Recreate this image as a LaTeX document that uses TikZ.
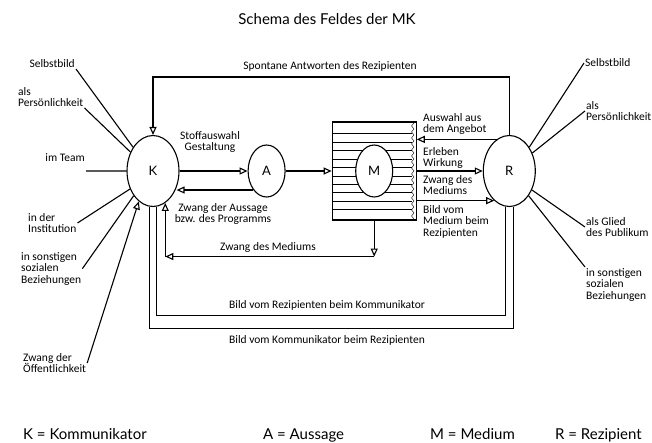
\documentclass[tikz,border=0pt]{standalone}
\usepackage{fontspec}
\setmainfont{Lato}
\newfontfamily\schmal{Carlito}
\usepackage{tikz}
\usetikzlibrary{positioning, arrows.meta, calc, shapes.geometric, decorations.pathmorphing}

\begin{document}
\begin{tikzpicture}[x=1pt, y=-1pt, >={Triangle[open, length=8pt, width=7pt]},
    linie/.style={line width=1.1pt},
    pfeil/.style={linie, ->},
    pol/.style={draw, linie, ellipse, fill=white, inner sep=0pt, minimum width=52pt, minimum height=71pt, font=\fontsize{13}{13}\selectfont},
    klein/.style={pol, minimum width=37pt, minimum height=52pt},
    txt/.style={font=\schmal\fontsize{11.5}{11.5}\selectfont, inner sep=1pt, align=left},
    legende/.style={font=\fontsize{15}{15}\selectfont, anchor=base west, inner sep=0pt}]
\useasboundingbox (0,0) rectangle (652,442);

\node[font=\fontsize{15}{15}\selectfont] (titel) at (327,19) {Schema des Feldes der MK};

% die vier Pole
\node[pol] (K) at (153,171) {K};
\node[klein, right=68pt of K] (A) {A};
\node[draw, linie, minimum width=84pt, minimum height=98pt, right=46pt of A] (box) {};
\foreach \i in {0,...,9}
  \draw ([yshift={-12pt-\i*8.45pt}]box.north west) -- ++(80,0);
\draw[decorate, decoration={zigzag, amplitude=1.2pt, segment length=6pt}]
  ([xshift=-4pt]box.north east) -- ([xshift=-4pt]box.south east);
\node[klein] (M) at (box) {M};
\node[pol, right=66pt of box] (R) {R};

% Einfluesse auf K
\node[txt, anchor=south east] (kSelbst) at (76,69) {Selbstbild};
\node[txt, anchor=north west] (kPers) at (17,86) {als\\Persönlichkeit};
\node[txt, anchor=north east] (kTeam) at (86,152) {im Team};
\node[txt, anchor=north west] (kInst) at (27,212) {in der\\Institution};
\node[txt, anchor=north west] (kSoz) at (20,251) {in sonstigen\\sozialen\\Beziehungen};
\node[txt, anchor=north west] (kOeff) at (22,352) {Zwang der\\Öffentlichkeit};
\draw[linie]
  (kSelbst.south east) -- (K.130)
  (kPers.south east) -- (K.140)
  (K.180 -| kTeam.south east) -- (K.180)
  (kInst.east) -- (K.218)
  (kSoz.east) -- (K.232);
\draw[pfeil] (kOeff.east) -- (K.245);

% Einfluesse auf R
\node[txt, anchor=west] (rSelbst) at (584,63) {Selbstbild};
\node[txt, anchor=north west] (rPers) at (585,100) {als\\Persönlichkeit};
\node[txt, anchor=north west] (rGlied) at (585,216) {als Glied\\des Publikum};
\node[txt, anchor=north west] (rSoz) at (585,267) {in sonstigen\\sozialen\\Beziehungen};
\draw[linie]
  (R.50) -- (rSelbst.west)
  (R.38) -- (rPers.west)
  (R.-40) -- (rGlied.west)
  (R.-52) -- (rSoz.north west);

% Aussage und Medium
\node[txt, align=center] (stoff) at (210,142) {Stoffauswahl\\Gestaltung};
\node[txt, align=center] (zwangA) at (223,214) {Zwang der Aussage\\bzw. des Programms};
\draw[pfeil] (K.east) -- (A.west);
\draw[pfeil] (A.235) -- (A.235 -| K.-35);
\draw[pfeil] (A.east) -- (box.west);

\node[txt, anchor=north west] (auswahl) at (422,112) {Auswahl aus\\dem Angebot};
\node[txt, anchor=north west] (erleben) at (422,146) {Erleben\\Wirkung};
\node[txt, anchor=north west] (zwangM) at (422,174) {Zwang des\\Mediums};
\node[txt, anchor=north west] (bildM) at (422,204) {Bild vom\\Medium beim\\Rezipienten};
\draw[pfeil] (R.112) -- (R.112 -| box.east);
\draw[pfeil] (box.east) -- (R.west);
\draw[pfeil] (box.east |- R.243) -- (R.243);

\node[txt] (zwangMed) at (268,247) {Zwang des Mediums};
\draw[pfeil] (box.south) -- ++(0,36) coordinate (ecke);
\draw[pfeil] (ecke) -- (ecke -| K.-69);
\draw[pfeil] (ecke -| K.-69) -- (K.-69);

% Rueckkopplungen
\node[txt] (spontan) at (330,66) {Spontane Antworten des Rezipienten};
\draw[pfeil] (R.north) -- ++(0,-58) -| (K.north);
\node[txt] (bildRK) at (327,305) {Bild vom Rezipienten beim Kommunikator};
\node[txt] (bildKR) at (327,340) {Bild vom Kommunikator beim Rezipienten};
\draw[linie] (R.-96) -- ++(0,109) -| (K.-84);
\draw[linie] (K.-96) -- ++(0,122) -| (R.-84);

% Legende
\node[legende] (legK) at (23,439) {K = Kommunikator};
\node[legende] (legA) at (263,439) {A = Aussage};
\node[legende] (legM) at (430,439) {M = Medium};
\node[legende] (legR) at (555,439) {R = Rezipient};
\end{tikzpicture}
\end{document}
